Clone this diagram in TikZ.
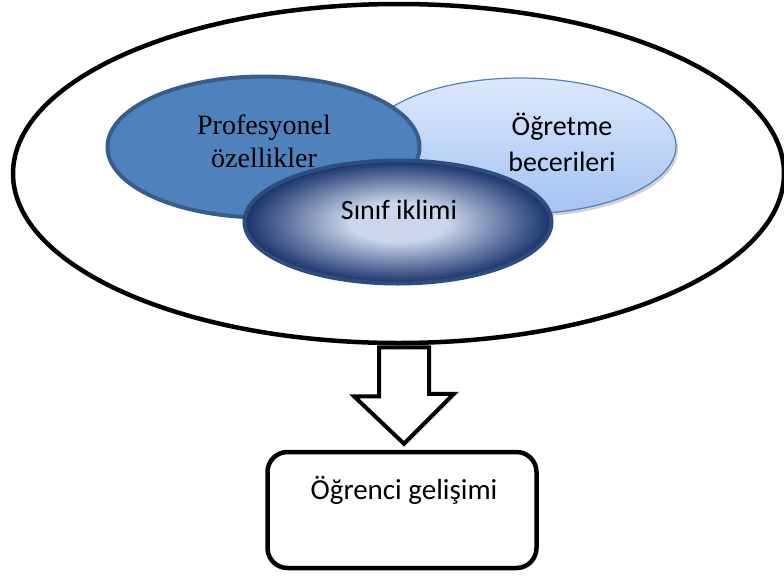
\documentclass[tikz,border=0pt]{standalone}
\usepackage{fontspec}
\setmainfont{Carlito}
\newfontfamily\serifface{Liberation Serif}
\usetikzlibrary{shapes.geometric,shadows,calc}

\definecolor{profblue}{HTML}{4F81BD}
\definecolor{profedge}{HTML}{385D8A}
\definecolor{skilltop}{HTML}{DCE8FB}
\definecolor{skillbottom}{HTML}{A4C3F2}
\definecolor{skilledge}{HTML}{4F81BD}
\definecolor{climatedark}{HTML}{17326A}
\definecolor{climatelight}{HTML}{CBD5EC}
\definecolor{climateedge}{HTML}{2E4C7E}

\pgfdeclareradialshading{climateglow}{\pgfpoint{0bp}{0bp}}{color(0bp)=(climatelight); color(8bp)=(climatelight); color(25bp)=(climatedark); color(50bp)=(climatedark)}

\tikzset{
  bubble/.style={ellipse, inner sep=0pt},
  txt/.style={font=\fontsize{28}{34}\selectfont, align=center},
  goalbox/.style={draw, line width=4.5pt, rounded corners=20pt, minimum width=269pt, minimum height=116pt},
  blockarrow/.style={draw, fill=white, line width=4pt, line join=miter},
}

\begin{document}
\begin{tikzpicture}[x=1pt,y=-1pt]
  \useasboundingbox (0,0) rectangle (784,576);

  % Outer frame round the three qualities
  \node[bubble, draw, line width=4.5pt, minimum width=771pt, minimum height=339pt] (outer) at (398.5,173.5) {};

  % The three overlapping qualities
  \node[bubble, draw=skilledge, line width=1.2pt, top color=skilltop, bottom color=skillbottom,
        drop shadow={shadow xshift=2pt, shadow yshift=-3pt, fill=gray!70}, minimum width=312pt, minimum height=136pt] (skills) at (520,146) {};
  \node[bubble, draw=profedge, line width=4pt, fill=profblue, minimum width=312pt, minimum height=141pt] (prof) at (263.5,147) {};
  \node[bubble, draw=climateedge, line width=4pt, shading=climateglow, minimum width=307pt, minimum height=123pt] (climate) at (398,222) {};

  % Labels
  \node[txt, font=\serifface\fontsize{28}{33}\selectfont] (proftext) at (264,141) {Profesyonel\\özellikler};
  \node[txt, font=\fontsize{28}{36}\selectfont] (skilltext) at (562,142) {Öğretme\\becerileri};
  \node[txt] (climatetext) at (399,210) {Sınıf iklimi};

  % Outcome
  \node[goalbox] (goal) at (402,510) {};
  \node[txt, font=\fontsize{29}{34}\selectfont] (goaltext) at (404,490) {Öğrenci gelişimi};

  % Block arrow from the frame to the outcome
  \coordinate (atop) at ($(outer.south -| goal.north)+(2,0)$);
  \draw[blockarrow] ($(atop)+(-25,2)$) -- ++(0,49) -- ++(-25,0) -- ($(goal.north)+(2,-6)$)
    -- ++(50,-50) -- ++(-25,0) -- ($(atop)+(25,2)$) -- cycle;
\end{tikzpicture}
\end{document}
